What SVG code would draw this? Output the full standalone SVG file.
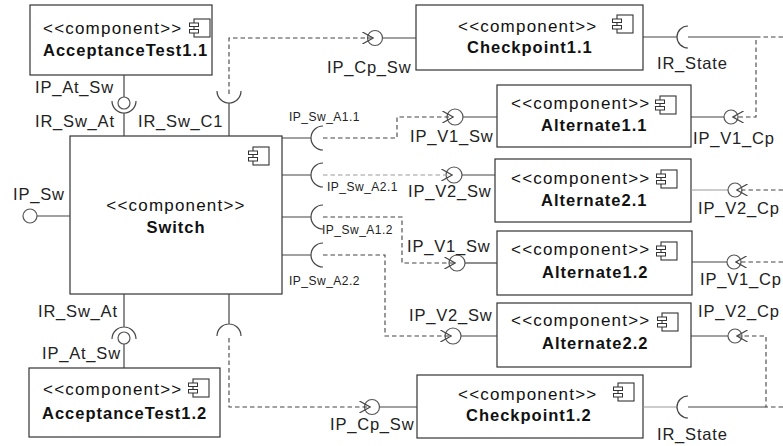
<svg xmlns="http://www.w3.org/2000/svg" xmlns:xlink="http://www.w3.org/1999/xlink" width="783" height="446" viewBox="0 0 783 446">
<style>
.box{fill:#fff;stroke:#333;stroke-width:1.2}
.t{font-family:"Liberation Sans",Arial,sans-serif;font-size:17px;letter-spacing:1.2px;fill:#111}
.b{font-weight:bold;font-size:16.5px;letter-spacing:1px}
.lbl{font-family:"Liberation Sans",Arial,sans-serif;font-size:16.5px;letter-spacing:0.8px;fill:#222}
.sm{font-size:12px;letter-spacing:0.5px}
.ln{stroke:#444;stroke-width:1.2;fill:none}
.lg{stroke:#999}
.ball{fill:#fff;stroke:#555;stroke-width:1.2}
.dash{stroke:#444;stroke-width:1.1;stroke-dasharray:4.5 3;fill:none;marker-end:url(#ar)}
.dl{stroke:#999}
</style>
<defs>
<marker id="ar" viewBox="0 0 10 10" refX="8" refY="5" markerWidth="12" markerHeight="12" orient="auto" markerUnits="userSpaceOnUse">
<path d="M0,0 L9,5 L0,10" fill="none" stroke="#444" stroke-width="1"/>
</marker>
<symbol id="ic" overflow="visible">
<rect x="5" y="0" width="16" height="18" fill="#fff" stroke="#333" stroke-width="1.1"/>
<rect x="0.5" y="4" width="9" height="3.5" fill="#fff" stroke="#333" stroke-width="1"/>
<rect x="0.5" y="10.5" width="9" height="3.5" fill="#fff" stroke="#333" stroke-width="1"/>
</symbol>
</defs>
<rect width="783" height="446" fill="#fff"/>

<g id="acceptance11">
<rect class="box" x="30" y="5" width="182" height="70"/>
<text class="t" x="43" y="34">&lt;&lt;component&gt;&gt;</text>
<text class="t b" x="43" y="56">AcceptanceTest1.1</text>
<use xlink:href="#ic" x="189" y="19"/>
<path class="ln" d="M124,75 V97"/>
<circle class="ball" cx="124" cy="103" r="6"/>
<text class="lbl" x="35" y="93">IP_At_Sw</text>
</g>

<g id="checkpoint11">
<rect class="box" x="416" y="5" width="227" height="65"/>
<text class="t" x="458" y="32">&lt;&lt;component&gt;&gt;</text>
<text class="t b" x="467" y="53">Checkpoint1.1</text>
<use xlink:href="#ic" x="612" y="15"/>
<path class="ln" d="M383,38 H416"/>
<circle class="ball" cx="375" cy="38" r="7.5"/>
<text class="lbl" x="327" y="73">IP_Cp_Sw</text>
<path class="ln" d="M643,37 H677 M688,26 A11,11 0 0 0 688,48"/>
<text class="lbl" x="657" y="69">IR_State</text>
</g>

<g id="switch">
<rect class="box" x="70" y="136" width="212" height="158"/>
<text class="t" x="176" y="211" text-anchor="middle">&lt;&lt;component&gt;&gt;</text>
<text class="t b" x="176" y="233" text-anchor="middle">Switch</text>
<use xlink:href="#ic" x="248" y="147"/>
<path class="ln" d="M37,216 H70"/>
<circle class="ball" cx="30" cy="216" r="7"/>
<text class="lbl" x="13" y="200">IP_Sw</text>
<path class="ln" d="M124,136 V113 M112,101 A12,12 0 0 0 136,101"/>
<text class="lbl" x="35" y="127">IR_Sw_At</text>
<path class="ln" d="M229,136 V103 M217,91 A12,12 0 0 0 241,91"/>
<text class="lbl" x="138" y="127">IR_Sw_C1</text>
<path class="ln" d="M124,294 V327 M112,339 A12,12 0 0 1 136,339"/>
<text class="lbl" x="38" y="317">IR_Sw_At</text>
<path class="ln" d="M229,294 V324 M217,336 A12,12 0 0 1 241,336"/>
<path class="ln" d="M282,138 H311 M323,126 A12,12 0 0 0 323,150"/>
<text class="lbl sm" x="289" y="121">IP_Sw_A1.1</text>
<path class="ln" d="M282,175 H311 M323,163 A12,12 0 0 0 323,187"/>
<text class="lbl sm" x="327" y="191">IP_Sw_A2.1</text>
<path class="ln" d="M282,217 H311 M323,205 A12,12 0 0 0 323,229"/>
<text class="lbl sm" x="322" y="234">IP_Sw_A1.2</text>
<path class="ln" d="M282,255 H311 M323,243 A12,12 0 0 0 323,267"/>
<text class="lbl sm" x="289" y="285">IP_Sw_A2.2</text>
</g>

<g id="alternate11">
<rect class="box" x="497" y="85" width="194" height="62"/>
<text class="t" x="511" y="109">&lt;&lt;component&gt;&gt;</text>
<text class="t b" x="541" y="131">Alternate1.1</text>
<use xlink:href="#ic" x="655" y="96"/>
<path class="ln" d="M463,117 H497"/>
<circle class="ball" cx="455" cy="117" r="8"/>
<text class="lbl" x="410" y="142">IP_V1_Sw</text>
<path class="ln" d="M691,117 H724"/>
<circle class="ball" cx="731" cy="117" r="7"/>
<text class="lbl" x="693" y="144">IP_V1_Cp</text>
</g>

<g id="alternate21">
<rect class="box" x="495" y="159" width="196" height="63"/>
<text class="t" x="511" y="184">&lt;&lt;component&gt;&gt;</text>
<text class="t b" x="541" y="206">Alternate2.1</text>
<use xlink:href="#ic" x="656" y="170"/>
<path class="ln" d="M462,175 H495"/>
<circle class="ball" cx="454" cy="175" r="8"/>
<text class="lbl" x="408" y="197">IP_V2_Sw</text>
<path class="ln lg" d="M691,190 H728"/>
<circle class="ball" cx="735" cy="190" r="7"/>
<text class="lbl" x="698" y="214">IP_V2_Cp</text>
</g>

<g id="alternate12">
<rect class="box" x="497" y="231" width="195" height="64"/>
<text class="t" x="511" y="255">&lt;&lt;component&gt;&gt;</text>
<text class="t b" x="542" y="278">Alternate1.2</text>
<use xlink:href="#ic" x="656" y="242"/>
<path class="ln" d="M465,263 H497"/>
<circle class="ball" cx="457" cy="263" r="8"/>
<text class="lbl" x="407" y="252">IP_V1_Sw</text>
<path class="ln" d="M692,262 H727"/>
<circle class="ball" cx="734" cy="262" r="7"/>
<text class="lbl" x="700" y="285">IP_V1_Cp</text>
</g>

<g id="alternate22">
<rect class="box" x="497" y="303" width="194" height="64"/>
<text class="t" x="511" y="326">&lt;&lt;component&gt;&gt;</text>
<text class="t b" x="542" y="349">Alternate2.2</text>
<use xlink:href="#ic" x="657" y="313"/>
<path class="ln" d="M461,336 H497"/>
<circle class="ball" cx="453" cy="336" r="8"/>
<text class="lbl" x="409" y="321">IP_V2_Sw</text>
<path class="ln" d="M691,336 H728"/>
<circle class="ball" cx="735" cy="336" r="7"/>
<text class="lbl" x="698" y="317">IP_V2_Cp</text>
</g>

<g id="acceptance12">
<rect class="box" x="29" y="368" width="191" height="69"/>
<text class="t" x="43" y="395">&lt;&lt;component&gt;&gt;</text>
<text class="t b" x="42" y="419">AcceptanceTest1.2</text>
<use xlink:href="#ic" x="188" y="379"/>
<path class="ln" d="M124,344 V368"/>
<circle class="ball" cx="124" cy="338" r="6"/>
<text class="lbl" x="42" y="359">IP_At_Sw</text>
</g>

<g id="checkpoint12">
<rect class="box" x="417" y="375" width="226" height="63"/>
<text class="t" x="458" y="400">&lt;&lt;component&gt;&gt;</text>
<text class="t b" x="466" y="421">Checkpoint1.2</text>
<use xlink:href="#ic" x="613" y="383"/>
<path class="ln" d="M379.5,407 H417"/>
<circle class="ball" cx="372" cy="407" r="7.5"/>
<text class="lbl" x="330" y="430">IP_Cp_Sw</text>
<path class="ln lg" d="M643,407 H677"/>
<path class="ln" d="M688,396 A11,11 0 0 0 688,418"/>
<text class="lbl" x="657" y="440">IR_State</text>
</g>

<g id="connectors">
<path class="ln" d="M688,37 H756"/>
<path class="ln" d="M688,407 H766"/>
<path class="dash" d="M229,94 V38 H372"/>
<path class="dash" d="M323,138 H397 V117 H452"/>
<path class="dash dl" d="M323,175 H451"/>
<path class="dash" d="M323,217 H402 V263 H454"/>
<path class="dash" d="M323,255 H385 V336 H450"/>
<path class="dash" d="M229,338 V407 H369"/>
<path class="dash" d="M783,37 H756 V117 H734"/>
<path class="dash" d="M783,190 H738"/>
<path class="dash" d="M783,262 H737"/>
<path class="dash" d="M783,407 H766 V336 H738"/>
</g>
</svg>
